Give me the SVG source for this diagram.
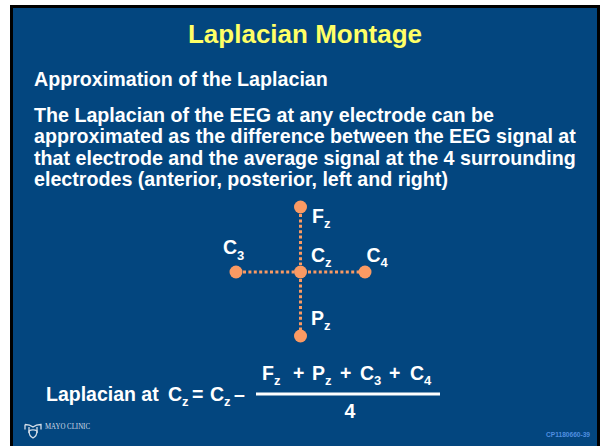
<svg xmlns="http://www.w3.org/2000/svg" width="600" height="446" viewBox="0 0 600 446">
<style>
text{font-family:"Liberation Sans",Arial,sans-serif;font-weight:700;fill:#fff}
.b{font-size:19.66px}
.l{font-size:19.5px}
.s{font-size:13px}
.e{fill:#fb9a63}
.c{stroke:#fb9a63;stroke-width:3;stroke-dasharray:3 2.400;fill:none}
</style>
<rect width="600" height="446" fill="#fff"/>
<rect x="11.500" y="6.500" width="587" height="441" fill="#03467f" stroke="#000" stroke-width="3"/>
<text x="305" y="43" text-anchor="middle" font-size="26" style="fill:#ffff66">Laplacian Montage</text>
<text x="34" y="86" class="b">Approximation of the Laplacian</text>
<text x="34" y="122" class="b">The Laplacian of the EEG at any electrode can be</text>
<text x="34" y="143" class="b">approximated as the difference between the EEG signal at</text>
<text x="34" y="165" class="b">that electrode and the average signal at the 4 surrounding</text>
<text x="34" y="186" class="b">electrodes (anterior, posterior, left and right)</text>
<g id="connectors">
<path class="c" d="M300.500 214V265M300.500 279V330M243 272H294M308 272H359"/>
</g>
<g id="node-fz"><circle class="e" cx="300.500" cy="207" r="6.500"/><text x="312" y="223" class="l">F<tspan class="s" dy="5">z</tspan></text></g>
<g id="node-cz"><circle class="e" cx="300.500" cy="272" r="6.500"/><text x="311" y="262" class="l">C<tspan class="s" dy="5">z</tspan></text></g>
<g id="node-c3"><circle class="e" cx="236" cy="272" r="6.500"/><text x="223" y="254" class="l">C<tspan class="s" dy="6">3</tspan></text></g>
<g id="node-c4"><circle class="e" cx="365" cy="272" r="6.500"/><text x="366.500" y="262" class="l">C<tspan class="s" dy="5">4</tspan></text></g>
<g id="node-pz"><circle class="e" cx="300.500" cy="336" r="6.500"/><text x="311" y="325" class="l">P<tspan class="s" dy="5">z</tspan></text></g>
<g id="formula">
<text x="46" y="401" class="l">Laplacian at</text>
<text x="168" y="401" class="l">C<tspan class="s" dy="5">z</tspan></text>
<text x="192" y="401" class="l">=</text>
<text x="210" y="401" class="l">C<tspan class="s" dy="5">z</tspan></text>
<text x="234" y="401" class="l">–</text>
<text x="262" y="380" class="l">F<tspan class="s" dy="5">z</tspan></text>
<text x="293" y="380" class="l">+</text>
<text x="312" y="380" class="l">P<tspan class="s" dy="5">z</tspan></text>
<text x="340" y="380" class="l">+</text>
<text x="360" y="380" class="l">C<tspan class="s" dy="5">3</tspan></text>
<text x="389" y="380" class="l">+</text>
<text x="410" y="380" class="l">C<tspan class="s" dy="5">4</tspan></text>
<rect x="256" y="392.500" width="184" height="3" fill="#fff"/>
<text x="350" y="418" text-anchor="middle" class="l">4</text>
</g>
<g id="logo" fill="none" stroke="#d5dee8" stroke-width="1.300">
<path d="M25 424.500c3 0 5 0 8 2.500 3-2.500 5-2.500 8-2.500v5M25 424.500v5M29 427v6M37 427v6"/>
<path d="M29 431c0 4 2 6 4 7 2-1 4-3 4-7-2-1.500-6-1.500-8 0z"/>
</g>
<text x="45" y="428.500" font-size="7.500" style="font-family:'Liberation Serif',serif;font-weight:400;fill:#d5dee8" textLength="45" lengthAdjust="spacingAndGlyphs">MAYO CLINIC</text>
<text x="546" y="437" font-size="6.500" style="fill:#4f8fe0" textLength="44" lengthAdjust="spacingAndGlyphs">CP1180660-39</text>
</svg>
